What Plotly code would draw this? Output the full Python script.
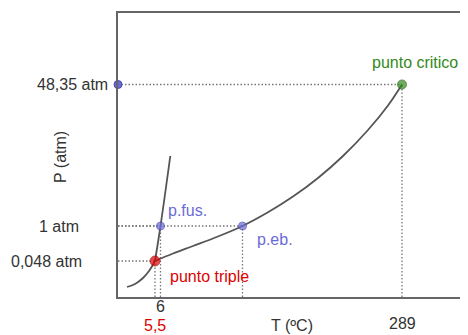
import plotly.graph_objects as go

# Schematic phase diagram (positions on a schematic, non-linear scale)
# Key points: (T position, P position)
point_names = ["punto triple", "p.fus.", "p.eb.", "punto critico"]
T_points = [37, 42.5, 124.5, 284]
P_points = [36, 71, 71, 212.5]

# Liquid-vapour curve
T_vapor = [37, 55, 75, 100, 124.5, 150, 175, 200, 225, 250, 270, 284]
P_vapor = [36, 43.5, 51, 60.5, 71, 84.7, 100.4, 119, 141, 167, 191.5, 212.5]

# Sublimation curve
T_sub = [9, 17, 25, 31, 37]
P_sub = [10, 13, 19, 26, 36]

# Melting curve
T_fus = [37, 42.5, 52.3]
P_fus = [36, 71, 141]

# Tick labels
x_tick_pos = [42.5, 37, 284]
x_tick_text = ["6", "5,5", "289"]
y_tick_pos = [212.5, 71, 36]
y_tick_text = ["48,35 atm", "1 atm", "0,048 atm"]

BLUE = "#6b6bd8"
RED = "#dd0000"
GREEN = "#338a1a"
CURVE = "#555555"
DOT = "#777777"
TXT = "#333333"
FS = 16

fig = go.Figure()

# dotted guide lines
for xp, yp in zip(T_points, P_points):
    fig.add_trace(go.Scatter(x=[0, xp], y=[yp, yp], mode="lines",
                             line=dict(color=DOT, width=1.3, dash="1.5px,2px"),
                             hoverinfo="skip", showlegend=False))
    fig.add_trace(go.Scatter(x=[xp, xp], y=[0, yp], mode="lines",
                             line=dict(color=DOT, width=1.3, dash="1.5px,2px"),
                             hoverinfo="skip", showlegend=False))

# curves
for xs, ys in [(T_vapor, P_vapor), (T_sub, P_sub), (T_fus, P_fus)]:
    fig.add_trace(go.Scatter(x=xs, y=ys, mode="lines",
                             line=dict(color=CURVE, width=1.8, shape="spline"),
                             hoverinfo="skip", showlegend=False))

# marker on P axis
fig.add_trace(go.Scatter(x=[0], y=[P_points[3]], mode="markers",
                         marker=dict(size=8, color=BLUE, line=dict(color="#4a4ab0", width=1)),
                         cliponaxis=False, showlegend=False))

colors = [RED, BLUE, BLUE, GREEN]
lines = ["#a00000", "#4a4ab0", "#4a4ab0", "#1f6010"]
sizes = [10, 8, 8, 9]
fig.add_trace(go.Scatter(x=T_points, y=P_points, mode="markers",
                         marker=dict(size=sizes, color=colors, line=dict(color=lines, width=1)),
                         cliponaxis=False, showlegend=False))

FONT = "Liberation Sans, Arial, sans-serif"
ann = []
# point labels
ann.append(dict(x=T_points[0], y=P_points[0], text="punto triple", xanchor="left", yanchor="middle",
                xshift=13, yshift=-15, font=dict(color=RED, size=FS)))
ann.append(dict(x=T_points[1], y=P_points[1], text="p.fus.", xanchor="left", yanchor="middle",
                xshift=5, yshift=16, font=dict(color=BLUE, size=FS)))
ann.append(dict(x=T_points[2], y=P_points[2], text="p.eb.", xanchor="left", yanchor="middle",
                xshift=12, yshift=-13, font=dict(color=BLUE, size=FS)))
ann.append(dict(x=T_points[3], y=P_points[3], text="punto critico", xanchor="center", yanchor="middle",
                xshift=13, yshift=22, font=dict(color=GREEN, size=FS)))
# x tick labels
ann.append(dict(x=x_tick_pos[0], y=0, text=x_tick_text[0], xanchor="center", yanchor="middle",
                yshift=-9, font=dict(color=TXT, size=FS)))
ann.append(dict(x=x_tick_pos[1], y=0, text=x_tick_text[1], xanchor="center", yanchor="middle",
                yshift=-28, font=dict(color=RED, size=FS)))
ann.append(dict(x=x_tick_pos[2], y=0, text=x_tick_text[2], xanchor="center", yanchor="middle",
                yshift=-26, font=dict(color=TXT, size=FS)))
# y tick labels
for yp, txt, sh in zip(y_tick_pos, y_tick_text, [-8, -37, -34]):
    ann.append(dict(x=0, y=yp, text=txt, xanchor="right", yanchor="middle",
                    xshift=sh, font=dict(color=TXT, size=FS)))
# axis titles
ann.append(dict(x=174, y=0, text="T (ºC)", xanchor="center", yanchor="middle",
                yshift=-28, font=dict(color=TXT, size=FS)))
ann.append(dict(x=0, y=140, text="P (atm)", xanchor="center", yanchor="middle", textangle=-90,
                xshift=-58, font=dict(color=TXT, size=FS)))

for a in ann:
    a.update(xref="x", yref="y", showarrow=False)

# the page body adds an 8px offset, so the figure is sized to fit the window
fig.update_layout(
    width=460, height=327,
    margin=dict(l=110, r=0, t=5, b=38),
    paper_bgcolor="white", plot_bgcolor="white",
    font=dict(family=FONT, size=FS, color=TXT),
    annotations=ann,
    xaxis=dict(range=[0, 350], showgrid=False, zeroline=False, showticklabels=False, ticks="",
               showline=True, linecolor="#666666", linewidth=2, mirror=True, fixedrange=True),
    yaxis=dict(range=[0, 284], showgrid=False, zeroline=False, showticklabels=False, ticks="",
               showline=True, linecolor="#666666", linewidth=2, fixedrange=True),
)

fig.write_html("out.html")
